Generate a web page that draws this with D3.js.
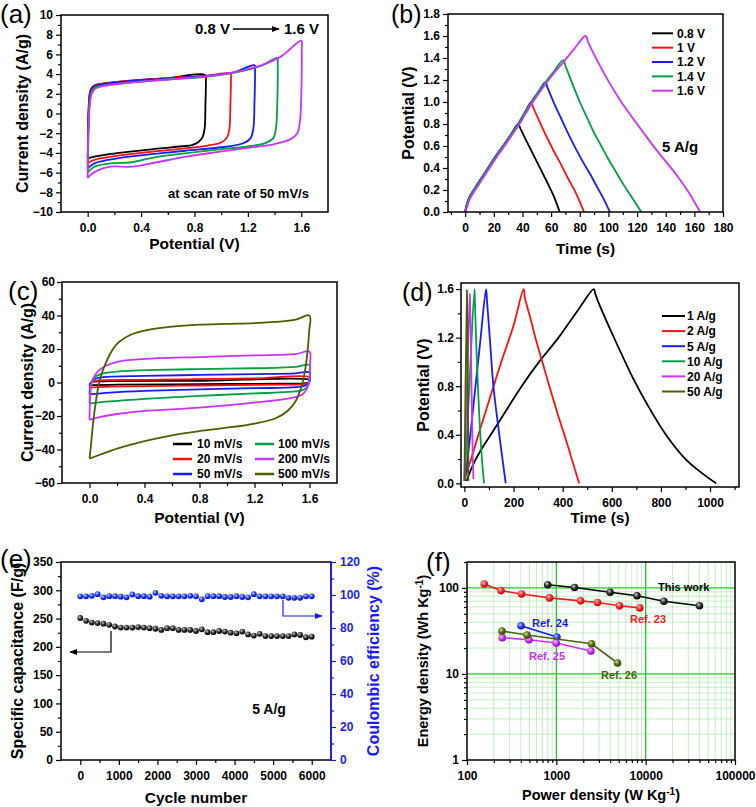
<!DOCTYPE html>
<html><head><meta charset="utf-8">
<script src="https://cdn.jsdelivr.net/npm/d3@7"></script>
<style>body{margin:0;background:#fff}svg{display:block}</style>
</head><body>
<script>
// ================= DATA =================
// Panel (a): CV at 50 mV/s, different voltage windows  [V, A/g]
const aNames=["0.8 V","1 V","1.2 V","1.4 V","1.6 V"];
const a08=[[0,-4.55],[0.003,-2],[0.008,0.8],[0.015,2.0],[0.03,2.6],[0.06,2.9],[0.12,3.05],[0.3,3.3],[0.6,3.6],[0.88,3.9],[0.885,3.3],[0.882,1],[0.876,-1.5],[0.86,-2.4],[0.83,-2.9],[0.78,-3.2],[0.73,-3.3],[0.5,-3.6],[0.3,-3.9],[0.15,-4.15],[0.05,-4.38],[0,-4.55]];
const a10=[[0,-5.05],[0.003,-2.2],[0.008,0.5],[0.015,1.8],[0.03,2.5],[0.06,2.85],[0.12,3.02],[0.3,3.3],[0.6,3.6],[0.9,3.85],[1.07,4.05],[1.073,3.5],[1.069,1],[1.062,-1.5],[1.045,-2.4],[1.0,-2.95],[0.9,-3.25],[0.73,-3.54],[0.5,-3.85],[0.3,-4.15],[0.12,-4.5],[0.04,-4.75],[0,-5.05]];
const a12=[[0,-5.57],[0.003,-2.5],[0.008,0.2],[0.015,1.6],[0.03,2.4],[0.06,2.78],[0.12,2.97],[0.3,3.25],[0.6,3.55],[0.9,3.85],[1.1,4.2],[1.25,4.9],[1.253,4.3],[1.249,1],[1.241,-1.5],[1.22,-2.5],[1.17,-3.0],[1.05,-3.35],[0.73,-3.78],[0.5,-4.1],[0.3,-4.4],[0.15,-4.72],[0.05,-5.06],[0,-5.57]];
const a14=[[0,-6.0],[0.003,-3],[0.008,-0.5],[0.015,1.2],[0.03,2.2],[0.06,2.65],[0.12,2.85],[0.3,3.12],[0.6,3.45],[0.9,3.75],[1.1,4.15],[1.3,4.85],[1.42,5.65],[1.423,5.0],[1.42,1],[1.41,-1.5],[1.39,-2.5],[1.33,-3.0],[1.2,-3.35],[0.95,-3.7],[0.73,-4.04],[0.5,-4.45],[0.33,-4.95],[0.17,-5.06],[0.06,-5.35],[0.02,-5.7],[0,-6.0]];
const a16=[[0,-6.55],[0.003,-3.5],[0.008,-1],[0.015,0.8],[0.03,2.0],[0.06,2.55],[0.12,2.8],[0.3,3.1],[0.6,3.45],[0.9,3.8],[1.1,4.2],[1.3,4.9],[1.45,5.8],[1.6,7.4],[1.603,6.5],[1.6,2],[1.59,-0.8],[1.57,-2.0],[1.52,-2.6],[1.4,-3.1],[1.2,-3.5],[0.95,-3.95],[0.73,-4.4],[0.5,-5.0],[0.33,-5.4],[0.17,-5.4],[0.08,-5.75],[0.03,-6.15],[0,-6.55]];
const aCurves=[a08,a10,a12,a14,a16];
const aYTicks=[-10,-8,-6,-4,-2,0,2,4,6,8,10];
const aXTicks=[0,0.4,0.8,1.2,1.6];

// Panel (b): GCD at 5 A/g, voltage windows [s, V]
const bNames=["0.8 V","1 V","1.2 V","1.4 V","1.6 V"];
const b08=[[0,0],[1,0.06],[2.5,0.12],[5,0.18],[8,0.24],[12,0.32],[17,0.42],[22,0.52],[27,0.61],[32,0.705],[37,0.8],[38.5,0.76],[43,0.64],[48,0.51],[53,0.38],[58,0.25],[62,0.14],[66,0]];
const b10=[[0,0],[1,0.06],[2.5,0.12],[5,0.18],[8,0.24],[12,0.32],[17,0.42],[22,0.52],[27,0.61],[32,0.705],[37,0.8],[41.5,0.9],[46,1.0],[47.5,0.95],[52,0.82],[57,0.68],[62,0.55],[67,0.43],[72,0.3],[77,0.18],[83,0]];
const b12=[[0,0],[1,0.06],[2.5,0.12],[5,0.18],[8,0.24],[12,0.32],[17,0.42],[22,0.52],[27,0.61],[32,0.705],[37,0.8],[41.5,0.9],[46,0.995],[51,1.09],[56,1.18],[57.5,1.13],[62,0.99],[67,0.85],[72,0.71],[77,0.58],[82,0.46],[87,0.35],[92,0.23],[97,0.11],[101,0]];
const b14=[[0,0],[1,0.06],[2.5,0.12],[5,0.18],[8,0.24],[12,0.32],[17,0.42],[22,0.52],[27,0.61],[32,0.705],[37,0.8],[41.5,0.9],[46,0.995],[51,1.09],[56,1.18],[62,1.28],[68.5,1.38],[70,1.33],[75,1.16],[80,1.0],[85,0.86],[90,0.72],[95,0.6],[100,0.48],[105,0.37],[110,0.26],[116,0.14],[123,0]];
const b16=[[0,0],[1.5,0.05],[3,0.11],[5.5,0.17],[8.5,0.23],[12.5,0.31],[17.5,0.41],[22.5,0.51],[27.5,0.6],[32.5,0.695],[37.5,0.79],[42,0.89],[46.5,0.985],[51.5,1.08],[56.5,1.17],[62.5,1.27],[69,1.37],[76,1.48],[84,1.6],[86,1.54],[92,1.38],[100,1.19],[108,1.02],[116,0.87],[124,0.73],[132,0.59],[140,0.46],[148,0.33],[156,0.18],[164,0]];
const bCurves=[b08,b10,b12,b14,b16];
const bYTicks=[0,0.2,0.4,0.6,0.8,1.0,1.2,1.4,1.6,1.8];
const bXTicks=[0,20,40,60,80,100,120,140,160,180];

// Panel (c): CV at scan rates [V, A/g]
const cNames=["10 mV/s","20 mV/s","50 mV/s","100 mV/s","200 mV/s","500 mV/s"];
const c10=[[0,-1.6],[0.005,-0.5],[0.02,0.3],[0.08,0.7],[0.8,1.0],[1.6,1.6],[1.602,0.8],[1.595,0],[1.56,-0.5],[1.4,-0.7],[0.8,-1.0],[0.2,-1.3],[0,-1.6]];
const c20=[[0,-3],[0.005,-1],[0.02,0.5],[0.08,1.3],[0.4,1.6],[0.8,2],[1.2,2.4],[1.6,3.2],[1.602,1.5],[1.595,0],[1.56,-1],[1.4,-1.3],[0.8,-1.8],[0.3,-2.3],[0.1,-2.6],[0,-3]];
const c50=[[0,-7],[0.003,-3.5],[0.012,0],[0.04,2.2],[0.1,3.2],[0.4,3.9],[0.8,4.5],[1.2,5],[1.5,5.5],[1.6,6],[1.603,3],[1.595,0],[1.57,-1.8],[1.5,-2.8],[1.2,-3.4],[0.8,-4.1],[0.4,-5],[0.15,-6],[0,-7]];
const c100=[[0,-12.5],[0.003,-7],[0.01,-1],[0.03,2.5],[0.08,5],[0.2,6.5],[0.5,7.5],[0.8,8],[1.2,8.5],[1.5,9.3],[1.6,10.5],[1.603,6],[1.6,1],[1.585,-2.5],[1.55,-4.5],[1.4,-5.8],[1.2,-6.5],[0.8,-8],[0.4,-9.8],[0.15,-11.3],[0,-12.5]];
const c200=[[0,-22.3],[0.003,-12],[0.01,-3],[0.025,2],[0.06,6.5],[0.12,10],[0.25,13],[0.5,14.5],[0.8,15.2],[1.2,16.2],[1.5,17],[1.6,18.5],[1.605,12],[1.6,3],[1.585,-3],[1.55,-7],[1.45,-9.5],[1.2,-12],[0.8,-15],[0.4,-17],[0.2,-18.8],[0.08,-20.5],[0,-22.3]];
const c500=[[0,-45.5],[0.01,-38],[0.025,-25],[0.045,-12],[0.07,0],[0.1,8],[0.15,17],[0.2,23],[0.3,28.5],[0.4,31],[0.6,33.3],[0.8,34.5],[1.0,35],[1.2,35.5],[1.4,36.5],[1.5,37.5],[1.6,40],[1.597,30],[1.585,18],[1.565,6],[1.54,-3],[1.5,-11],[1.44,-17],[1.35,-21.5],[1.2,-24.5],[1.0,-27],[0.8,-29],[0.6,-31.5],[0.4,-35],[0.2,-39.5],[0.08,-43],[0,-45.5]];
const cCurves=[c10,c20,c50,c100,c200,c500];
const cYTicks=[-60,-40,-20,0,20,40,60];
const cXTicks=[0,0.4,0.8,1.2,1.6];

// Panel (d): GCD at current densities [s, V]
const dNames=["1 A/g","2 A/g","5 A/g","10 A/g","20 A/g","50 A/g"];
const d1=[[9,0.02],[30,0.13],[60,0.25],[107,0.4],[170,0.6],[233,0.8],[300,0.99],[383,1.2],[460,1.42],[527,1.6],[533,1.56],[552,1.46],[600,1.24],[688,0.86],[750,0.63],[824,0.39],[900,0.2],[970,0.08],[1025,0]];
const d2=[[3,0.05],[30,0.22],[60,0.42],[100,0.68],[150,1.0],[200,1.3],[241,1.6],[246,1.53],[270,1.35],[290,1.19],[320,0.98],[350,0.77],[380,0.57],[410,0.38],[440,0.18],[467,0]];
const d5=[[2,0.02],[20,0.33],[45,0.8],[65,1.18],[88,1.6],[92,1.5],[105,1.15],[118,0.8],[142,0.4],[168,0]];
const d10=[[1,0.02],[20,0.8],[40.7,1.6],[43,1.48],[49,1.1],[56,0.75],[64,0.42],[72,0.18],[80,0]];
const d20=[[0,0.02],[21.7,1.565],[23,1.5],[28,0.9],[33,0.3],[36.6,0.036]];
const d50=[[0,0.02],[10.5,1.59],[12,1.45],[15,0.4],[16,0.02]];
const dCurves=[d1,d2,d5,d10,d20,d50];
const dYTicks=[0,0.4,0.8,1.2,1.6];
const dXTicks=[0,200,400,600,800,1000];

// Panel (e): cycling stability at 5 A/g
const eCycles=[0,150,300,450,600,750,900,1050,1200,1350,1500,1650,1800,1950,2100,2250,2400,2550,2700,2850,3000,3150,3300,3450,3600,3750,3900,4050,4200,4350,4500,4650,4800,4950,5100,5250,5400,5550,5700,5850,6000];
const eCap=[251,246,243,242,241,239,236,234,234,234,235,234,233,232,230,233,233,230,230,230,228,231,226,226,228,227,225,224,227,222,220,223,219,219,219,219,219,222,221,217,218];
const eCE=[99.2,99.2,99.5,100.5,98.6,99.3,99.3,99.0,98.6,100.3,99.3,99.3,99.0,101.3,99.5,99.2,99.2,99.2,99.2,99.5,99.2,97.4,99.3,99.3,99.3,98.8,98.8,99.3,98.8,98.6,100.5,99.2,99.2,99.2,99.2,99.2,98.3,98.3,98.3,99.2,99.2];
const eYTicks=[0,50,100,150,200,250,300,350];
const eY2Ticks=[0,20,40,60,80,100,120];
const eXTicks=[0,1000,2000,3000,4000,5000,6000];

// Panel (f): Ragone plot
const fNames=["This work","Ref. 23","Ref. 24","Ref. 25","Ref. 26"];
const fThisP=[800,1600,4000,8000,16000,40000], fThisE=[109,101,89,81,70,62];
const fR23P=[156,240,408,840,1866,2890,5090,8590], fR23E=[111,93,85,76.5,70.7,67.6,61.9,58.6];
const fR24P=[402,1014], fR24E=[36.3,26.8];
const fR25P=[248,493,997,2438], fR25E=[26.4,25,22.9,18.5];
const fR26P=[246,469,2477,4840], fR26E=[31.5,28.3,22.4,13.4];
const fXTicks=[100,1000,10000,100000];
const fYTicks=[1,10,100];

// ================= DRAWING =================
const FONT='"Liberation Sans", Arial, Helvetica, sans-serif';
const K="#000000", R="#ff1010", B="#1a1aff", G="#00a046", M="#cc33ff", O="#4b5e00";
const svg=d3.select("body").append("svg").attr("width",756).attr("height",807).style("font-family",FONT);
const defs=svg.append("defs");
function grad(id,c0,c1,c2){const g=defs.append("radialGradient").attr("id",id).attr("cx","38%").attr("cy","35%").attr("r","65%");
  g.append("stop").attr("offset","0%").attr("stop-color",c0);g.append("stop").attr("offset","50%").attr("stop-color",c1);g.append("stop").attr("offset","100%").attr("stop-color",c2);}
grad("gK","#d0d0d0","#333","#000");grad("gB","#c8ccff","#3344ff","#0010c0");grad("gR","#ffd0d0","#ff3030","#c00000");
grad("gM","#f5d0ff","#d040ff","#9000c0");grad("gO","#d8e0a0","#5e7410","#334000");grad("gBl","#d0d8ff","#2040ff","#0010c0");
function marker(id,color){defs.append("marker").attr("id",id).attr("viewBox","0 0 10 10").attr("refX",9).attr("refY",5)
  .attr("markerWidth",8).attr("markerHeight",6).attr("markerUnits","userSpaceOnUse").attr("orient","auto").attr("preserveAspectRatio","none")
  .append("path").attr("d","M0,0L10,5L0,10z").attr("fill",color);}
marker("mK","#000");marker("mB",B);

function styleAx(s,color){s.select(".domain").remove();s.attr("font-family",null).attr("font-size",null);
  s.selectAll("line").attr("stroke",color).attr("stroke-width",1.2);
  s.selectAll("text").attr("fill",color).attr("font-size",12).attr("font-weight","bold");}
function minorVals(major,step,lo,hi){const out=[];for(let i=0;i<major.length-1;i++){out.push(+(major[i]+step).toFixed(6));}
  if(lo!==undefined&&major[0]-step>lo+1e-9)out.unshift(major[0]-step);if(hi!==undefined&&major[major.length-1]+step<hi-1e-9)out.push(major[major.length-1]+step);return out;}

function panel(o){
  const g=svg.append("g");
  const bx=o.box;
  const xa=g.append("g").attr("transform",`translate(0,${bx.b})`).call(d3.axisBottom(o.x).tickValues(o.xMajor).tickFormat(o.xFmt).tickSize(5).tickPadding(o.xPad||6));
  styleAx(xa,"#000");
  if(o.xMinor){styleAx(g.append("g").attr("transform",`translate(0,${bx.b})`).call(d3.axisBottom(o.x).tickValues(o.xMinor).tickFormat(()=>"").tickSize(3)),"#000");}
  const ya=g.append("g").attr("transform",`translate(${bx.l},0)`).call(d3.axisLeft(o.y).tickValues(o.yMajor).tickFormat(o.yFmt).tickSize(5).tickPadding(o.yPad||3));
  styleAx(ya,"#000");
  if(o.yMinor){styleAx(g.append("g").attr("transform",`translate(${bx.l},0)`).call(d3.axisLeft(o.y).tickValues(o.yMinor).tickFormat(()=>"").tickSize(3)),"#000");}
  const clipId="clip"+o.id;
  defs.append("clipPath").attr("id",clipId).append("rect").attr("x",bx.l).attr("y",bx.t).attr("width",bx.r-bx.l).attr("height",bx.b-bx.t);
  const plot=g.append("g").attr("clip-path",`url(#${clipId})`);
  const front=g.append("g");
  g.frame=()=>front.append("rect").attr("x",bx.l).attr("y",bx.t).attr("width",bx.r-bx.l).attr("height",bx.b-bx.t).attr("fill","none").attr("stroke","#000").attr("stroke-width",1.5);
  if(o.yTitle) g.append("text").attr("x",o.ytx).attr("y",(bx.t+bx.b)/2).attr("transform",`rotate(-90,${o.ytx},${(bx.t+bx.b)/2})`).attr("text-anchor","middle").attr("dy","0.36em")
    .attr("font-size",o.ytfs||16).attr("font-weight","bold").text(o.yTitle);
  if(o.xTitle) g.append("text").attr("x",(bx.l+bx.r)/2).attr("y",o.xty).attr("text-anchor","middle").attr("dy","0.36em").attr("font-size",15.5).attr("font-weight","bold").text(o.xTitle);
  g.append("text").attr("x",o.lx).attr("y",o.ly).attr("font-size",o.lfs||26).text(o.letter);
  g.plot=plot;g.front=front;
  return g;
}
const line=(x,y)=>d3.line().x(d=>x(d[0])).y(d=>y(d[1])).curve(d3.curveCatmullRom.alpha(0.5));
function bold(g,x,y,t,fs,col,anchor){return g.append("text").attr("x",x).attr("y",y).attr("font-size",fs).attr("font-weight","bold").attr("fill",col||"#000").attr("text-anchor",anchor||"start").text(t);}

// ---------- (a)
{
const box={l:61,r:328,t:15,b:212};
const x=d3.scaleLinear().domain([-0.2,1.8]).range([box.l,box.r]);
const y=d3.scaleLinear().domain([-10,10]).range([box.b,box.t]);
const p=panel({id:"a",box,x,y,xMajor:aXTicks,xMinor:minorVals(aXTicks,0.2),xFmt:d3.format(".1f"),yMajor:aYTicks,yMinor:minorVals(aYTicks,1),yFmt:d3.format("d"),
  yTitle:"Current density (A/g)",xTitle:"Potential (V)",ytx:22,xty:243,letter:"(a)",lx:0,ly:23});
const cols=[K,R,B,G,M];
aCurves.forEach((c,i)=>p.plot.append("path").attr("d",line(x,y)(c)).attr("fill","none").attr("stroke",cols[i]).attr("stroke-width",1.8));
p.frame();
bold(p.front,195,34,"0.8 V",15);
p.front.append("line").attr("x1",233).attr("x2",279).attr("y1",29).attr("y2",29).attr("stroke","#000").attr("stroke-width",1.5).attr("marker-end","url(#mK)");
bold(p.front,284,34,"1.6 V",15);
bold(p.front,168,198,"at scan rate of 50 mV/s",13);
}
// ---------- (b)
{
const box={l:448,r:723,t:14,b:212};
const x=d3.scaleLinear().domain([-12,180]).range([box.l,box.r]);
const y=d3.scaleLinear().domain([0,1.8]).range([box.b,box.t]);
const p=panel({id:"b",box,x,y,xMajor:bXTicks,xMinor:minorVals(bXTicks,10,-12),xFmt:d3.format("d"),yMajor:bYTicks,yMinor:minorVals(bYTicks,0.1),yFmt:d3.format(".1f"),
  yTitle:"Potential (V)",xTitle:"Time (s)",ytx:408,xty:248,letter:"(b)",lx:391,ly:23,lfs:25});
const cols=[K,R,B,G,M];
bCurves.forEach((c,i)=>p.plot.append("path").attr("d",line(x,y)(c)).attr("fill","none").attr("stroke",cols[i]).attr("stroke-width",1.8));
p.frame();
bNames.forEach((n,i)=>{const yy=33.3+i*14.35;
  p.front.append("line").attr("x1",652).attr("x2",673).attr("y1",yy).attr("y2",yy).attr("stroke",cols[i]).attr("stroke-width",2);
  bold(p.front,677,yy,n,12).attr("dy","0.36em");});
bold(p.front,680,147,"5 A/g",15,"#000","middle").attr("dy","0.36em");
}
// ---------- (c)
{
const box={l:62,r:337,t:282,b:483};
const x=d3.scaleLinear().domain([-0.2,1.8]).range([box.l,box.r]);
const y=d3.scaleLinear().domain([-60,60]).range([box.b,box.t]);
const p=panel({id:"c",box,x,y,xMajor:cXTicks,xMinor:minorVals(cXTicks,0.2),xFmt:d3.format(".1f"),yMajor:cYTicks,yMinor:minorVals(cYTicks,10),yFmt:d3.format("d"),yPad:2,
  yTitle:"Current density (A/g)",xTitle:"Potential (V)",ytx:27,xty:517,letter:"(c)",lx:8,ly:300,lfs:26});
const cols=[K,R,B,G,M,O];
cCurves.forEach((c,i)=>p.plot.append("path").attr("d",line(x,y)(c)).attr("fill","none").attr("stroke",cols[i]).attr("stroke-width",1.8));
p.frame();
cNames.forEach((n,i)=>{const col=Math.floor(i/3),row=i%3;const yy=444+row*15;
  const lx=col?255:173, tx=col?278:197;
  p.front.append("line").attr("x1",lx).attr("x2",lx+19).attr("y1",yy).attr("y2",yy).attr("stroke",cols[i]).attr("stroke-width",2.5);
  bold(p.front,tx,yy,n,12).attr("dy","0.36em");});
}
// ---------- (d)
{
const box={l:461,r:739,t:283,b:487};
const x=d3.scaleLinear().domain([-14,1118]).range([box.l,box.r]);
const y=d3.scaleLinear().domain([-0.03,1.65]).range([box.b,box.t]);
const p=panel({id:"d",box,x,y,xMajor:dXTicks,xMinor:minorVals(dXTicks,100,-14,1118),xFmt:d3.format("d"),yMajor:dYTicks,yMinor:minorVals(dYTicks,0.2),yFmt:d3.format(".1f"),yPad:2,
  yTitle:"Potential (V)",xTitle:"Time (s)",ytx:423,xty:517,letter:"(d)",lx:402,ly:301,lfs:25});
const cols=[K,R,B,G,M,O];
dCurves.forEach((c,i)=>p.plot.append("path").attr("d",line(x,y)(c)).attr("fill","none").attr("stroke",cols[i]).attr("stroke-width",1.8));
p.frame();
dNames.forEach((n,i)=>{const yy=316+i*15.1;
  p.front.append("line").attr("x1",662).attr("x2",685).attr("y1",yy).attr("y2",yy).attr("stroke",cols[i]).attr("stroke-width",2);
  bold(p.front,687,yy,n,12).attr("dy","0.36em");});
}
// ---------- (e)
{
const box={l:61,r:331,t:562,b:760};
const x=d3.scaleLinear().domain([-500,6500]).range([box.l,box.r]);
const y=d3.scaleLinear().domain([0,350]).range([box.b,box.t]);
const y2=d3.scaleLinear().domain([0,120]).range([box.b,box.t]);
const p=panel({id:"e",box,x,y,xMajor:eXTicks,xMinor:minorVals(eXTicks,500),xFmt:d3.format("d"),yMajor:eYTicks,yMinor:minorVals(eYTicks,25),yFmt:d3.format("d"),
  yTitle:"Specific capacitance (F/g)",xTitle:"Cycle number",ytx:17,xty:797,letter:"(e)",lx:0,ly:568});
const ra=p.append("g").attr("transform",`translate(${box.r},0)`).call(d3.axisRight(y2).tickValues(eY2Ticks).tickFormat(d3.format("d")).tickSize(5).tickPadding(4));
styleAx(ra,B);
styleAx(p.append("g").attr("transform",`translate(${box.r},0)`).call(d3.axisRight(y2).tickValues(minorVals(eY2Ticks,10)).tickFormat(()=>"").tickSize(3)),B);
p.plot.selectAll(".cap").data(eCycles).join("circle").attr("cx",d=>x(d)).attr("cy",(d,i)=>y(eCap[i])).attr("r",2.9).attr("fill","url(#gK)");
p.plot.selectAll(".ce").data(eCycles).join("circle").attr("cx",d=>x(d)).attr("cy",(d,i)=>y2(eCE[i])).attr("r",2.9).attr("fill","url(#gBl)");
p.frame();
p.front.append("line").attr("x1",box.r).attr("x2",box.r).attr("y1",box.t).attr("y2",box.b).attr("stroke",B).attr("stroke-width",1.5);
p.front.append("polyline").attr("points",`111,631 111,652 70,652`).attr("fill","none").attr("stroke","#000").attr("stroke-width",1.2).attr("marker-end","url(#mK)");
p.front.append("polyline").attr("points",`283,600 283,616 322,616`).attr("fill","none").attr("stroke",B).attr("stroke-width",1.2).attr("marker-end","url(#mB)");
bold(p.front,269,709,"5 A/g",14,"#000","middle").attr("dy","0.36em");
p.append("text").attr("x",373).attr("y",661).attr("transform","rotate(-90,373,661)").attr("text-anchor","middle").attr("dy","0.36em")
  .attr("font-size",16).attr("font-weight","bold").attr("fill",B).text("Coulombic efficiency (%)");
}
// ---------- (f)
{
const box={l:467,r:735,t:562,b:760};
const x=d3.scaleLog().domain([100,100000]).range([box.l,box.r]);
const y=d3.scaleLog().domain([1,200]).range([box.b,box.t]);
const xMinor=[],yMinor=[];
[100,1000,10000].forEach(d=>{for(let k=2;k<=9;k++)xMinor.push(d*k);});
[1,10].forEach(d=>{for(let k=2;k<=9;k++)yMinor.push(d*k);});yMinor.push(200);
const p=panel({id:"f",box,x,y,xMajor:fXTicks,xMinor,xFmt:d=>String(d),yMajor:fYTicks,yMinor,yFmt:d=>String(d),
  yTitle:"",xTitle:"",ytx:423,xty:795,letter:"(f)",lx:426,ly:571});
xMinor.forEach(v=>p.plot.append("line").attr("x1",x(v)).attr("x2",x(v)).attr("y1",box.t).attr("y2",box.b).attr("stroke","#b3ecb3").attr("stroke-width",0.8));
yMinor.forEach(v=>p.plot.append("line").attr("y1",y(v)).attr("y2",y(v)).attr("x1",box.l).attr("x2",box.r).attr("stroke","#b3ecb3").attr("stroke-width",0.8));
[1000,10000].forEach(v=>p.plot.append("line").attr("x1",x(v)).attr("x2",x(v)).attr("y1",box.t).attr("y2",box.b).attr("stroke","#22cc22").attr("stroke-width",1.3));
[10,100].forEach(v=>p.plot.append("line").attr("y1",y(v)).attr("y2",y(v)).attr("x1",box.l).attr("x2",box.r).attr("stroke","#22cc22").attr("stroke-width",1.3));
const sets=[[fThisP,fThisE,"#000","gK"],[fR23P,fR23E,"#f02020","gR"],[fR24P,fR24E,"#1a1aff","gB"],[fR25P,fR25E,"#cc33ee","gM"],[fR26P,fR26E,"#4f6214","gO"]];
const ln=d3.line().x(d=>x(d[0])).y(d=>y(d[1]));
sets.forEach(([P,E,c,gid])=>{const pts=P.map((v,i)=>[v,E[i]]);
  p.plot.append("path").attr("d",ln(pts)).attr("fill","none").attr("stroke",c).attr("stroke-width",1.6);
  p.plot.selectAll(null).data(pts).join("circle").attr("cx",d=>x(d[0])).attr("cy",d=>y(d[1])).attr("r",3.8).attr("fill",`url(#${gid})`);});
p.frame();
bold(p.front,658,591,"This work",11,"#000");
bold(p.front,630,623,"Ref. 23",11,"#f02020");
bold(p.front,532,627,"Ref. 24",11,"#1a1aff");
bold(p.front,529,660,"Ref. 25",11,"#cc33ee");
bold(p.front,601,679,"Ref. 26",11,"#4f6214");
const yt=p.append("text").attr("transform","rotate(-90,423,661)").attr("x",423).attr("y",661).attr("text-anchor","middle").attr("dy","0.36em").attr("font-size",14.5).attr("font-weight","bold");
yt.append("tspan").text("Energy density (Wh Kg");yt.append("tspan").attr("font-size",10).attr("dy","-5").text("-1");yt.append("tspan").attr("dy","5").text(")");
const xt=p.append("text").attr("x",601).attr("y",795).attr("text-anchor","middle").attr("dy","0.36em").attr("font-size",14.5).attr("font-weight","bold");
xt.append("tspan").text("Power density (W Kg");xt.append("tspan").attr("font-size",10).attr("dy","-5").text("-1");xt.append("tspan").attr("dy","5").text(")");
}
</script>
</body></html>
